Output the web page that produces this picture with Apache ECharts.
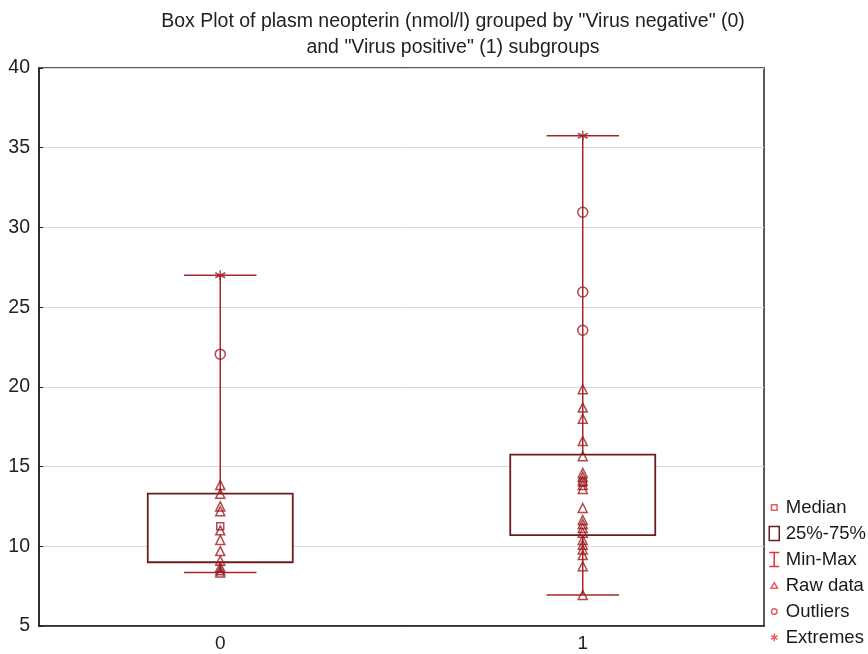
<!DOCTYPE html>
<html>
<head>
<meta charset="utf-8">
<script src="https://cdn.jsdelivr.net/npm/echarts@6/dist/echarts.min.js"></script>
<style>html,body{margin:0;padding:0;background:#fff;}#c{width:868px;height:654px;}</style>
</head>
<body>
<div id="c"></div>
<script>
var categories = ['0', '1'];
var yTicks = [5, 10, 15, 20, 25, 30, 35, 40];
var minVals = [8.35, 6.95];
var q1Vals = [9.0, 10.7];
var medianVals = [11.25, 14.0];
var q3Vals = [13.3, 15.75];
var maxVals = [27.0, 35.75];
var raw0 = [13.85, 13.3, 12.5, 12.2, 11.0, 10.4, 9.7, 9.1, 8.7, 8.5, 8.35];
var raw1 = [19.85, 18.7, 18.0, 16.6, 15.65, 14.6, 14.35, 14.1, 13.85, 13.6, 12.4, 11.65, 11.4, 11.15, 10.85, 10.4, 10.1, 9.8, 9.45, 8.75, 6.95];
var outliers0 = [22.05];
var outliers1 = [30.95, 25.95, 23.55];
var extremes0 = [27.0];
var extremes1 = [35.75];

var dark = '#9b1c20';
var boxCol = '#6e1d1f';
var legRed = '#e0353b';
var asterisk = 'path://M7,0L7,14M0,3.5L14,10.5M0,10.5L14,3.5';

function pts(idx, arr) { return arr.map(function (v) { return [idx, v]; }); }

var rawData = pts(0, raw0).concat(pts(1, raw1));
var outData = pts(0, outliers0).concat(pts(1, outliers1));
var extData = pts(0, extremes0).concat(pts(1, extremes1));
var medData = medianVals.map(function (v, i) { return [i, v]; });
var boxData = q1Vals.map(function (v, i) { return [i, v, q3Vals[i]]; });
var whiskData = minVals.map(function (v, i) { return [i, v, maxVals[i]]; });

var hollow = { color: 'rgba(0,0,0,0)', borderColor: dark, borderWidth: 1.5 };
var FONT = 'Liberation Sans, Arial, sans-serif';

var chart = echarts.init(document.getElementById('c'), null, { renderer: 'canvas' });
chart.setOption({
  backgroundColor: '#ffffff',
  animation: false,
  textStyle: { fontFamily: FONT },
  title: {
    text: 'Box Plot of plasm neopterin (nmol/l) grouped by "Virus negative" (0)\nand "Virus positive" (1) subgroups',
    left: 448, top: 4, textAlign: 'center',
    textStyle: { fontSize: 19.5, fontWeight: 'normal', color: '#222', lineHeight: 26, fontFamily: FONT }
  },
  legend: {
    orient: 'vertical', left: 767, top: 498, height: 175, padding: 0,
    itemWidth: 13, itemHeight: 14, itemGap: 7,
    textStyle: { fontSize: 18.5, color: '#1a1a1a', fontFamily: FONT },
    selectedMode: false,
    data: [
      { name: 'Median', icon: 'path://M0,0L0,0M14,14L14,14M4,4L10,4L10,10L4,10Z', itemStyle: { color: 'rgba(0,0,0,0)', borderColor: legRed, borderWidth: 1.5 } },
      { name: '25%-75%', icon: 'path://M2,0L12,0L12,14L2,14Z', itemStyle: { color: 'rgba(0,0,0,0)', borderColor: boxCol, borderWidth: 1.5 } },
      { name: 'Min-Max', icon: 'path://M2,0L12,0M7,0L7,14M2,14L12,14', itemStyle: { color: 'rgba(0,0,0,0)', borderColor: legRed, borderWidth: 1.5 } },
      { name: 'Raw data', icon: 'path://M0,0L0,0M14,14L14,14M7,4L10.5,10L3.5,10Z', itemStyle: { color: 'rgba(0,0,0,0)', borderColor: legRed, borderWidth: 1.5 } },
      { name: 'Outliers', icon: 'path://M0,0L0,0M14,14L14,14M10,7A3,3 0 1 1 4,7A3,3 0 1 1 10,7Z', itemStyle: { color: 'rgba(0,0,0,0)', borderColor: legRed, borderWidth: 1.5 } },
      { name: 'Extremes', icon: 'path://M0,0L0,0M14,14L14,14M7,3L7,11M3.5,5L10.5,9M3.5,9L10.5,5', itemStyle: { color: 'rgba(0,0,0,0)', borderColor: legRed, borderWidth: 1.5 } }
    ]
  },
  grid: { left: 39, right: 104, top: 68, bottom: 28, show: true, borderColor: '#222', borderWidth: 1.5, backgroundColor: 'transparent' },
  xAxis: {
    type: 'category', data: categories, boundaryGap: true,
    axisLine: { lineStyle: { color: '#222', width: 1.5 } },
    axisTick: { inside: true, alignWithLabel: true, length: 4, lineStyle: { color: '#222' } },
    axisLabel: { fontSize: 19, color: '#222', margin: 8 },
    splitLine: { show: false }
  },
  yAxis: {
    type: 'value', min: yTicks[0], max: yTicks[yTicks.length - 1], interval: 5,
    axisLine: { show: true, lineStyle: { color: '#222', width: 1.5 } },
    axisTick: { show: true, inside: true, length: 4, lineStyle: { color: '#222' } },
    axisLabel: { fontSize: 19.5, color: '#222', margin: 9 },
    splitLine: { show: true, lineStyle: { color: '#d9d9d9', width: 1 } }
  },
  series: [
    {
      name: 'Min-Max', type: 'custom', z: 1,
      data: whiskData,
      itemStyle: { color: legRed },
      renderItem: function (params, api) {
        var c = api.value(0);
        var lo = api.coord([c, api.value(1)]);
        var hi = api.coord([c, api.value(2)]);
        var half = api.size([1, 0])[0] * 0.1;
        var st = { stroke: '#a8262b', lineWidth: 1.5 };
        return { type: 'group', children: [
          { type: 'line', shape: { x1: lo[0], y1: lo[1], x2: hi[0], y2: hi[1] }, style: st },
          { type: 'line', shape: { x1: lo[0] - half, y1: lo[1], x2: lo[0] + half, y2: lo[1] }, style: st },
          { type: 'line', shape: { x1: hi[0] - half, y1: hi[1], x2: hi[0] + half, y2: hi[1] }, style: st }
        ] };
      }
    },
    {
      name: '25%-75%', type: 'custom', z: 2,
      data: boxData,
      itemStyle: { color: boxCol },
      renderItem: function (params, api) {
        var c = api.value(0);
        var lo = api.coord([c, api.value(1)]);
        var hi = api.coord([c, api.value(2)]);
        var w = api.size([1, 0])[0] * 0.4;
        return { type: 'rect', shape: { x: lo[0] - w / 2, y: hi[1], width: w, height: lo[1] - hi[1] },
          style: { fill: '#ffffff', stroke: boxCol, lineWidth: 1.8 } };
      }
    },
    { name: 'Raw data', type: 'scatter', z: 3, symbol: 'triangle', symbolSize: 9, data: rawData, itemStyle: hollow },
    { name: 'Median', type: 'scatter', z: 4, symbol: 'rect', symbolSize: 7, data: medData, itemStyle: hollow },
    { name: 'Outliers', type: 'scatter', z: 3, symbol: 'circle', symbolSize: 10, data: outData, itemStyle: hollow },
    { name: 'Extremes', type: 'scatter', z: 3, symbol: asterisk, symbolSize: 10, data: extData, itemStyle: hollow }
  ]
});
</script>
</body>
</html>
